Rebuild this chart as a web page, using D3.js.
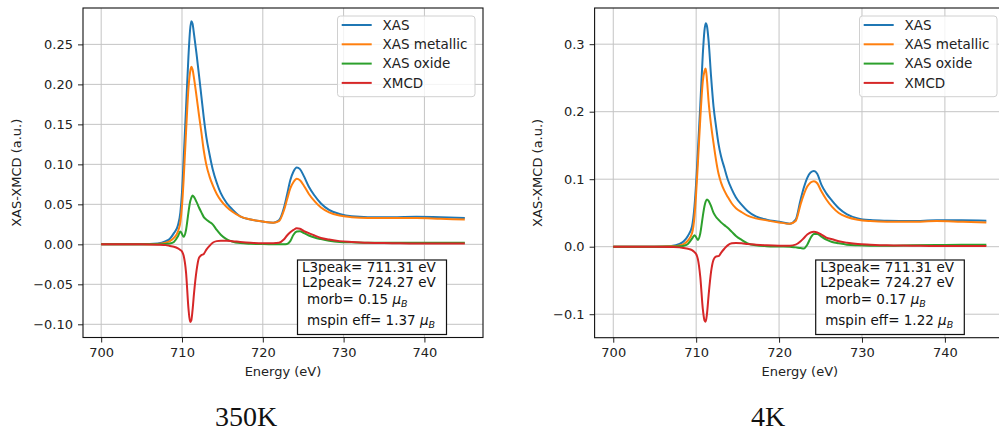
<!DOCTYPE html>
<html><head><meta charset="utf-8">
<script src="https://cdn.jsdelivr.net/npm/d3@7/dist/d3.min.js"></script>
<style>html,body{margin:0;padding:0;background:#fff;}svg{display:block;}</style>
</head><body>
<svg id="chart" width="999" height="434"></svg>
<script>
// ---------- DATA ----------
const energy = [700,705,707,708,708.5,709,709.5,709.8,710.0,710.2,710.5,710.8,711.0,711.15,711.3,711.5,711.8,712.1,712.4,712.7,713.0,713.4,713.8,714.3,714.8,715.5,716.2,717.2,718.5,720,721.3,722.0,722.6,723.0,723.4,723.8,724.2,724.6,725.1,725.7,726.4,727.2,728.2,729.5,731,733,736,739,742,745];

const seriesNames = ["XAS","XAS metallic","XAS oxide","XMCD"];

// 350K panel
const xas350 = [0,0,0.001,0.004,0.007,0.014,0.024,0.040,0.065,0.105,0.170,0.235,0.268,0.279,0.276,0.262,0.238,0.212,0.185,0.158,0.135,0.113,0.094,0.077,0.064,0.052,0.044,0.035,0.031,0.0285,0.027,0.030,0.045,0.062,0.080,0.091,0.096,0.094,0.085,0.072,0.061,0.051,0.043,0.038,0.035,0.034,0.034,0.0345,0.034,0.033];
const met350 = [0,0,0.0005,0.002,0.004,0.008,0.016,0.028,0.048,0.080,0.140,0.195,0.215,0.222,0.219,0.207,0.185,0.162,0.140,0.117,0.100,0.085,0.074,0.063,0.055,0.047,0.041,0.035,0.031,0.0285,0.027,0.029,0.042,0.056,0.070,0.078,0.082,0.080,0.073,0.063,0.054,0.046,0.040,0.036,0.034,0.033,0.033,0.033,0.032,0.031];
const oxi350 = [0,0,0,0.0005,0.001,0.003,0.010,0.016,0.013,0.0095,0.018,0.040,0.053,0.058,0.061,0.059,0.053,0.046,0.040,0.034,0.031,0.028,0.025,0.018,0.012,0.0065,0.0035,0.0015,0.0007,0.0003,0.0002,0.0002,0.0002,0.0005,0.004,0.012,0.016,0.0165,0.014,0.011,0.0085,0.0065,0.0045,0.003,0.0025,0.002,0.002,0.002,0.002,0.002];
const mcd350 = [0,0,-0.0005,-0.001,-0.002,-0.003,-0.005,-0.007,-0.009,-0.014,-0.035,-0.080,-0.097,-0.095,-0.083,-0.060,-0.033,-0.017,-0.0135,-0.012,-0.007,-0.002,0.002,0.004,0.0045,0.0045,0.004,0.003,0.002,0.0015,0.0015,0.002,0.006,0.011,0.015,0.018,0.020,0.0195,0.0165,0.014,0.011,0.008,0.006,0.004,0.003,0.002,0.0015,0.001,0.001,0.001];

// 4K panel
const xas4 = [0,0,0.001,0.004,0.008,0.016,0.030,0.060,0.095,0.140,0.210,0.285,0.320,0.331,0.327,0.305,0.252,0.207,0.178,0.152,0.134,0.117,0.100,0.085,0.073,0.062,0.053,0.045,0.040,0.037,0.034,0.040,0.070,0.088,0.102,0.110,0.112,0.108,0.092,0.079,0.068,0.057,0.048,0.042,0.0395,0.0385,0.038,0.039,0.039,0.0385];
const met4 = [0,0,0.0005,0.002,0.004,0.009,0.020,0.045,0.080,0.122,0.190,0.245,0.260,0.264,0.248,0.215,0.180,0.153,0.128,0.108,0.095,0.083,0.074,0.064,0.057,0.051,0.046,0.042,0.039,0.036,0.034,0.038,0.063,0.078,0.089,0.095,0.097,0.094,0.082,0.070,0.059,0.050,0.044,0.040,0.038,0.037,0.037,0.038,0.037,0.036];
const oxi4 = [0,0,0,0.0005,0.0015,0.004,0.012,0.017,0.014,0.010,0.020,0.045,0.060,0.067,0.070,0.068,0.060,0.050,0.044,0.040,0.036,0.032,0.028,0.022,0.016,0.010,0.005,0.002,0.0008,0.0003,0,-0.001,-0.002,-0.0025,0.003,0.013,0.019,0.019,0.015,0.0105,0.007,0.005,0.003,0.002,0.0015,0.0015,0.002,0.0025,0.003,0.003];
const mcd4 = [0,0,-0.0005,-0.001,-0.002,-0.003,-0.005,-0.008,-0.011,-0.018,-0.045,-0.092,-0.109,-0.111,-0.100,-0.072,-0.037,-0.019,-0.0145,-0.014,-0.009,-0.003,0.002,0.005,0.0055,0.005,0.004,0.003,0.002,0.0015,0.0015,0.003,0.008,0.013,0.018,0.021,0.022,0.021,0.018,0.0135,0.011,0.008,0.006,0.004,0.003,0.002,0.0015,0.001,0.001,0.001];

const xTicks = [700,710,720,730,740];
const yTicks350 = [-0.10,-0.05,0.00,0.05,0.10,0.15,0.20,0.25];
const yTicks4 = [-0.1,0.0,0.1,0.2,0.3];
const colors = ["#1f77b4","#ff7f0e","#2ca02c","#d62728"];

const panels = [
  {title:"350K", series:[xas350,met350,oxi350,mcd350], yTicks:yTicks350, fmt:".2f",
   xr:[83,483], yd:[-0.1165,0.2955], yr:[337.5,8], titleX:246,
   box:["L3peak= 711.31 eV","L2peak= 724.27 eV"], morb:"0.15", mspin:"1.37"},
  {title:"4K", series:[xas4,met4,oxi4,mcd4], yTicks:yTicks4, fmt:".1f",
   xr:[594.6,1005], yd:[-0.1348,0.3536], yr:[337.7,8], titleX:768,
   box:["L3peak= 711.31 eV","L2peak= 724.27 eV"], morb:"0.17", mspin:"1.22"}
];

// ---------- DRAW ----------
const svg = d3.select("#chart");
const FONT = "DejaVu Sans";
const minus = s => s.replace("-", "\u2212");

panels.forEach((p, pi) => {
  const x = d3.scaleLinear().domain([697.75, 747.25]).range(p.xr);
  const y = d3.scaleLinear().domain(p.yd).range(p.yr);
  const [x0, x1] = p.xr, [yb, yt] = p.yr;
  const g = svg.append("g");

  const clipId = "clip" + pi;
  svg.append("clipPath").attr("id", clipId).append("rect")
    .attr("x", x0).attr("y", yt).attr("width", x1 - x0).attr("height", yb - yt);

  // grid
  const grid = g.append("g").attr("stroke", "#c4c4c4").attr("stroke-width", 1);
  xTicks.forEach(t => grid.append("line").attr("x1", x(t)).attr("x2", x(t)).attr("y1", yt).attr("y2", yb));
  p.yTicks.forEach(t => grid.append("line").attr("x1", x0).attr("x2", x1).attr("y1", y(t)).attr("y2", y(t)));

  // lines
  const line = d3.line().x((d, i) => x(energy[i])).y(d => y(d)).curve(d3.curveMonotoneX);
  const lg = g.append("g").attr("clip-path", `url(#${clipId})`);
  p.series.forEach((s, si) => {
    lg.append("path").datum(s).attr("d", line).attr("fill", "none")
      .attr("stroke", colors[si]).attr("stroke-width", 2).attr("stroke-linejoin", "round");
  });

  // axes
  const xa = g.append("g").attr("transform", `translate(0,${yb})`)
    .call(d3.axisBottom(x).tickValues(xTicks).tickSize(5).tickPadding(5).tickFormat(d3.format("d")));
  const ya = g.append("g").attr("transform", `translate(${x0},0)`)
    .call(d3.axisLeft(y).tickValues(p.yTicks).tickSize(5).tickPadding(5).tickFormat(d => minus(d3.format(p.fmt)(d))));
  [xa, ya].forEach(a => {
    a.select(".domain").remove();
    a.selectAll("text").attr("font-family", FONT).attr("font-size", 13).attr("fill", "#222");
    a.selectAll("line").attr("stroke", "#222");
  });
  // spines
  g.append("rect").attr("x", x0).attr("y", yt).attr("width", x1 - x0).attr("height", yb - yt)
    .attr("fill", "none").attr("stroke", "#111").attr("stroke-width", 1.1);

  // axis labels
  g.append("text").attr("x", (x0 + x1) / 2).attr("y", 376).attr("text-anchor", "middle")
    .attr("font-family", FONT).attr("font-size", 13).attr("fill", "#222").text("Energy (eV)");
  const ylx = pi === 0 ? 21 : 542;
  g.append("text").attr("transform", `translate(${ylx},${(yt + yb) / 2}) rotate(-90)`)
    .attr("text-anchor", "middle").attr("font-family", FONT).attr("font-size", 13).attr("fill", "#222")
    .text("XAS-XMCD (a.u.)");

  // legend
  const lx = x1 - 8 - 137.5;
  const leg = g.append("g").attr("transform", `translate(${lx},16)`);
  leg.append("rect").attr("width", 137.5).attr("height", 80.7).attr("rx", 3)
    .attr("fill", "white").attr("fill-opacity", 0.8).attr("stroke", "#d0d0d0").attr("stroke-width", 1);
  seriesNames.forEach((n, i) => {
    const ry = 9 + i * 19.3;
    leg.append("line").attr("x1", 4.2).attr("x2", 34.2).attr("y1", ry).attr("y2", ry)
      .attr("stroke", colors[i]).attr("stroke-width", 2);
    leg.append("text").attr("x", 45).attr("y", ry + 4.8).attr("font-family", FONT)
      .attr("font-size", 13.5).attr("fill", "#222").text(n);
  });

  // text box
  const bx = pi === 0 ? 297.5 : 815.7;
  const bw = pi === 0 ? 149 : 148.6;
  g.append("rect").attr("x", bx).attr("y", 260).attr("width", bw).attr("height", 74.5)
    .attr("fill", "white").attr("stroke", "#111").attr("stroke-width", 1.2);
  const tx = bx + 4.5;
  [p.box[0], p.box[1]].forEach((t, i) => {
    g.append("text").attr("x", tx).attr("y", 272 + i * 14.5).attr("font-family", FONT)
      .attr("font-size", 13.5).attr("fill", "#111").text(t);
  });
  const mu = (txt, yy) => {
    const t = g.append("text").attr("x", tx + 5).attr("y", yy).attr("font-family", FONT)
      .attr("font-size", 13.5).attr("fill", "#111");
    t.append("tspan").text(txt + " ");
    t.append("tspan").attr("font-style", "italic").text("\u03bc");
    t.append("tspan").attr("font-style", "italic").attr("font-size", 9.5).attr("dy", 3).text("B");
  };
  mu("morb= " + p.morb, 304);
  mu("mspin eff= " + p.mspin, 325);

  // title below
  svg.append("text").attr("x", p.titleX).attr("y", 426).attr("text-anchor", "middle")
    .attr("font-family", "Liberation Serif").attr("font-size", 28).attr("fill", "#111").text(p.title);
});
</script>
</body></html>
